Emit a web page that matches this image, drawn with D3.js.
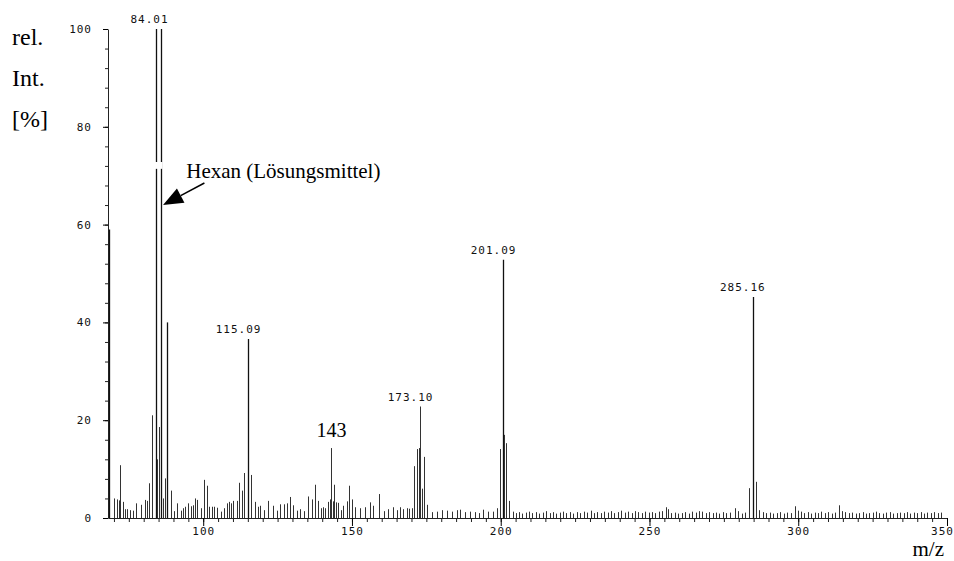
<!DOCTYPE html>
<html>
<head>
<meta charset="utf-8">
<script src="https://cdn.jsdelivr.net/npm/d3@7"></script>
<style>
  body { margin: 0; background: #fff; }
  .tick text, .peak-label { font-family: "DejaVu Sans Mono", monospace; font-size: 11px; letter-spacing: 1px; fill: #111; }
  .serif { font-family: "Liberation Serif", "Times New Roman", serif; fill: #000; }
</style>
</head>
<body>
<svg id="chart" width="954" height="561"></svg>
<script>
// peaks as [m/z, rel. intensity %]
const mainPeaks = [
  [68.3, 59], [70.1, 4.0], [70.9, 3.8], [71.6, 3.6], [72.1, 10.8], [72.9, 3.3],
  [73.7, 1.8], [74.5, 1.8], [75.4, 1.6], [76.3, 1.5], [77.4, 3.0], [79.1, 2.7],
  [80.4, 3.7], [81.2, 3.5], [81.9, 7.1], [82.9, 21], [84.0, 100], [84.6, 12],
  [85.0, 18.6], [85.8, 100], [86.4, 4.0], [87.2, 8.1], [87.9, 40], [89.2, 5.6],
  [90.3, 1.4], [91.1, 3.0], [92.4, 1.5], [93.3, 2.0], [93.9, 2.3], [95.0, 3.0],
  [95.8, 2.4], [96.5, 2.6], [97.2, 4.0], [98.0, 3.7], [99.2, 2.0], [100.3, 7.8],
  [101.2, 6.6], [102.1, 2.3], [102.9, 2.3], [103.6, 2.3], [104.5, 2.1], [106.0, 1.3],
  [107.0, 2.0], [107.9, 3.0], [108.7, 3.3], [109.3, 3.0], [110.1, 3.5], [111.3, 3.5],
  [112.1, 7.2], [112.9, 5.6], [113.8, 9.2], [115.2, 36.6], [116.1, 8.8], [117.4, 3.3],
  [118.5, 2.3], [119.1, 2.5], [120.5, 1.6], [121.9, 3.5], [123.6, 2.5], [124.7, 1.5],
  [125.8, 2.8], [127.0, 2.8], [128.1, 3.0], [129.2, 4.3], [130.3, 2.6], [131.4, 1.5],
  [132.5, 1.8], [133.8, 1.4], [135.3, 4.4], [136.5, 3.8], [137.6, 6.8], [138.6, 3.5],
  [139.5, 2.0], [140.3, 2.2], [141.0, 2.0], [142.1, 3.3], [142.6, 3.8], [143.1, 14.3],
  [143.5, 3.4], [144.1, 6.8], [144.6, 3.2], [145.2, 3.1], [146.2, 1.6], [147.1, 2.5],
  [148.2, 3.4], [149.1, 6.6], [149.9, 3.8], [151.0, 2.2], [152.7, 2.0], [154.4, 2.2],
  [156.1, 3.2], [157.0, 2.5], [159.0, 4.9], [160.6, 1.4], [162.2, 1.8], [163.9, 2.2],
  [165.0, 1.6], [166.2, 2.2], [167.3, 1.8], [168.4, 2.0], [169.3, 1.9], [170.1, 2.0],
  [171.0, 10.6], [172.0, 14.1], [172.6, 14.3], [173.0, 22.8], [173.5, 6.0], [174.1, 12.5],
  [175.1, 2.7], [176.8, 1.2], [178.5, 1.3], [180.2, 1.6], [181.8, 1.5], [183.5, 1.3],
  [185.2, 1.6], [186.3, 1.7], [188.0, 1.2], [189.7, 1.3], [191.4, 1.2], [192.8, 1.0],
  [194.2, 1.7], [195.8, 1.3], [197.5, 1.3], [198.7, 2.0], [199.8, 14.1], [200.9, 52.8],
  [201.2, 17], [201.8, 15.3], [202.9, 3.5],
  [283.4, 6.1], [284.7, 45.2], [285.8, 7.4], [286.9, 1.6]
];

const noisePeaks = [
  [204.2, 1.3], [205.1, 1.0], [206.3, 1.2], [207.2, 0.9], [208.4, 1.1], [209.5, 1.3],
  [210.6, 1.0], [211.8, 1.2], [212.9, 0.9], [214.1, 1.1], [215.2, 1.4], [216.4, 1.0],
  [217.5, 1.2], [218.7, 0.9], [219.8, 1.1], [221.0, 1.3], [222.1, 1.0], [223.3, 1.2],
  [224.4, 0.9], [225.6, 1.2], [226.7, 1.0], [227.9, 1.3], [229.0, 1.1], [230.2, 1.5],
  [231.3, 1.0], [232.5, 1.2], [233.6, 1.0], [234.8, 1.3], [235.9, 1.1], [237.1, 1.4],
  [238.2, 1.0], [239.4, 1.2], [240.5, 1.5], [241.7, 1.1], [242.8, 1.3], [244.0, 1.0],
  [245.1, 1.4], [246.3, 1.2], [247.4, 1.0], [248.6, 1.3], [249.7, 1.1], [250.9, 1.2],
  [252.0, 1.0], [253.2, 1.3], [254.3, 1.4], [255.6, 2.2], [256.3, 1.8], [257.4, 1.0],
  [258.6, 1.1], [259.7, 0.9], [260.9, 1.0], [262.0, 1.2], [263.2, 0.9], [264.3, 1.3],
  [265.5, 1.1], [266.6, 1.4], [267.8, 1.3], [268.9, 1.0], [270.1, 1.2], [271.2, 1.0],
  [272.4, 1.1], [273.5, 0.9], [274.7, 1.2], [275.8, 1.0], [276.9, 1.1], [278.8, 2.0],
  [279.8, 1.4], [281.0, 0.9], [282.1, 1.1],
  [288.2, 1.2], [289.3, 1.0], [290.5, 1.1], [291.6, 0.9], [292.8, 1.0], [293.9, 1.2],
  [295.1, 0.9], [296.2, 1.1], [297.4, 1.0], [299.0, 2.4], [300.0, 1.5], [300.9, 1.3],
  [302.0, 1.0], [303.2, 1.2], [304.3, 0.9], [305.5, 1.1], [306.6, 1.0], [307.8, 1.3],
  [308.9, 1.0], [310.1, 1.2], [311.2, 0.9], [312.4, 1.1], [313.8, 2.6], [314.7, 1.4],
  [315.8, 1.2], [317.0, 1.0], [318.1, 1.1], [319.3, 0.9], [320.4, 1.0], [321.6, 1.2],
  [322.7, 0.9], [323.9, 1.0], [325.0, 1.1], [326.2, 1.3], [327.3, 1.0], [328.5, 0.9],
  [329.6, 1.1], [330.8, 1.2], [331.9, 0.9], [333.1, 1.0], [334.2, 1.1], [335.4, 1.0],
  [336.5, 1.2], [337.7, 0.9], [338.8, 1.1], [340.0, 1.0], [341.1, 1.2], [342.3, 0.9],
  [343.4, 1.1], [344.6, 1.0], [345.7, 1.2], [346.9, 1.0], [348.0, 1.1]
];

// labelled peaks: [m/z of stick, label text]
const peakLabels = [
  [84.0, '84.01'], [115.2, '115.09'], [173.0, '173.10'], [200.9, '201.09'], [284.7, '285.16']
];

const xMajorTicks = [100, 150, 200, 250, 300, 350];
const yMajorTicks = [0, 20, 40, 60, 80, 100];

const svg = d3.select('#chart');
const x = d3.scaleLinear().domain([68, 350]).range([108, 947]);
const y = d3.scaleLinear().domain([0, 100]).range([518, 29]);

const allPeaks = mainPeaks.concat(noisePeaks);
const peakTop = (m) => allPeaks.find((p) => p[0] === m)[1];

svg.append('g')
    .selectAll('line')
    .data(allPeaks)
  .join('line')
    .attr('x1', (d) => Math.round(x(d[0])) + 0.5)
    .attr('x2', (d) => Math.round(x(d[0])) + 0.5)
    .attr('y1', y(0))
    .attr('y2', (d) => y(d[1]))
    .attr('stroke', (d) => (d[1] > 30 ? '#111' : '#333'))
    .attr('stroke-width', (d) => (d[1] > 30 ? 1.3 : 1));

// scan gap across the two solvent lines
svg.append('rect')
    .attr('x', x(83.2)).attr('width', x(86.3) - x(83.2))
    .attr('y', y(72.8)).attr('height', y(71.4) - y(72.8))
    .attr('fill', '#fff');

// y axis: minor + major ticks
svg.append('g')
    .attr('transform', `translate(${x(68)},0)`)
    .call(d3.axisLeft(y).tickValues(d3.range(0, 101, 4)).tickSize(3).tickFormat('').tickSizeOuter(0))
    .call((g) => g.select('.domain').remove())
    .selectAll('line').attr('stroke', '#222');
const yAxis = svg.append('g')
    .attr('transform', `translate(${x(68)},0)`)
    .call(d3.axisLeft(y).tickValues(yMajorTicks).tickSize(5).tickPadding(11).tickSizeOuter(0));
yAxis.select('.domain').attr('stroke', '#222');
yAxis.selectAll('text').attr('font-size', null).attr('font-family', null);

// x axis
svg.append('g')
    .attr('transform', `translate(0,${y(0)})`)
    .call(d3.axisBottom(x).tickValues(d3.range(70, 351, 5)).tickSize(4).tickFormat('').tickSizeOuter(0))
    .call((g) => g.select('.domain').remove())
    .selectAll('line').attr('stroke', '#222');
const xAxis = svg.append('g')
    .attr('transform', `translate(0,${y(0)})`)
    .call(d3.axisBottom(x).tickValues(xMajorTicks).tickSize(8).tickPadding(1).tickSizeOuter(0));
xAxis.select('.domain').attr('stroke', '#222');
xAxis.selectAll('text').attr('font-size', null).attr('font-family', null);
// keep the last label inside the page edge
xAxis.selectAll('.tick').filter((d) => d === 350).select('text').attr('x', -5);

// peak labels
svg.append('g')
    .selectAll('text')
    .data(peakLabels)
  .join('text')
    .attr('class', 'peak-label')
    .attr('text-anchor', 'end')
    .attr('x', (d) => x(d[0]) + 13)
    .attr('y', (d) => y(peakTop(d[0])) - 6)
    .text((d) => d[1]);

svg.append('text')
    .attr('class', 'serif')
    .attr('font-size', 20)
    .attr('text-anchor', 'middle')
    .attr('x', x(143.1))
    .attr('y', y(14.3) - 11)
    .text('143');

// axis titles
const yTitle = ['rel.', 'Int.', '[%]'];
svg.append('g')
    .selectAll('text')
    .data(yTitle)
  .join('text')
    .attr('class', 'serif')
    .attr('font-size', 24)
    .attr('x', 12)
    .attr('y', (d, i) => 45 + i * 41)
    .text((d) => d);

svg.append('text')
    .attr('class', 'serif')
    .attr('font-size', 21)
    .attr('text-anchor', 'end')
    .attr('x', 944)
    .attr('y', 556)
    .text('m/z');

// solvent annotation
svg.append('text')
    .attr('class', 'serif')
    .attr('font-size', 21)
    .attr('x', x(94.3))
    .attr('y', y(69.5))
    .text('Hexan (Lösungsmittel)');

const tip = [x(86.5), y(64)];
const tail = [x(100.4), y(68.5)];
const ang = Math.atan2(tail[1] - tip[1], tail[0] - tip[0]);
const headLen = 20, headW = 8;
const base = [tip[0] + headLen * Math.cos(ang), tip[1] + headLen * Math.sin(ang)];
svg.append('line')
    .attr('x1', base[0]).attr('y1', base[1])
    .attr('x2', tail[0]).attr('y2', tail[1])
    .attr('stroke', '#000').attr('stroke-width', 1.5);
svg.append('path')
    .attr('d', d3.line()([
      tip,
      [base[0] - headW * Math.sin(ang), base[1] + headW * Math.cos(ang)],
      [base[0] + headW * Math.sin(ang), base[1] - headW * Math.cos(ang)]
    ]) + 'Z')
    .attr('fill', '#000');
</script>
</body>
</html>
